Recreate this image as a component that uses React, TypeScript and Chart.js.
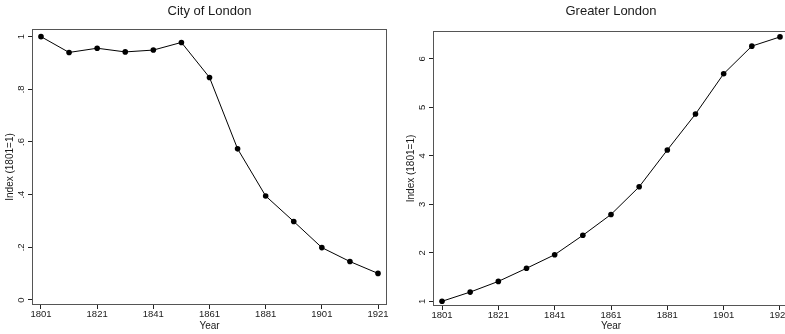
import React, { useEffect, useRef } from "react";
import { Chart, registerables } from "chart.js";

Chart.register(...registerables);

const years = [1801, 1811, 1821, 1831, 1841, 1851, 1861, 1871, 1881, 1891, 1901, 1911, 1921];
const cityValues = [1.0, 0.94, 0.956, 0.942, 0.949, 0.978, 0.845, 0.574, 0.395, 0.298, 0.199, 0.146, 0.101];
const greaterValues = [1.0, 1.19, 1.41, 1.68, 1.96, 2.36, 2.79, 3.36, 4.12, 4.86, 5.69, 6.26, 6.45];
const xTicks = [1801, 1821, 1841, 1861, 1881, 1901, 1921];
const cityYTicks = [0, 0.2, 0.4, 0.6, 0.8, 1];
const cityYTickLabels = ["0", ".2", ".4", ".6", ".8", "1"];
const greaterYTicks = [1, 2, 3, 4, 5, 6];
const greaterYTickLabels = ["1", "2", "3", "4", "5", "6"];
const panelTitles = ["City of London", "Greater London"];
const xTitle = "Year";
const yTitle = "Index (1801=1)";

const FONT = "'Liberation Sans', Arial, Helvetica, sans-serif";
const TEXT = "#1a1a1a";
const TICK_SIZE = 9.5;
const AXIS_TITLE_SIZE = 10;

type Panel = {
  title: string;
  values: number[];
  yTicks: number[];
  yLabels: string[];
  yMin: number;
  yMax: number;
  canvasLeft: number;
  canvasWidth: number;
  padRight: number;
  yAxisWidth: number;
  xAxisHeight: number;
  titlePadTop: number;
  titlePadBottom: number;
  yTitlePad: number;
  yTickPad: number;
};

const panels: Panel[] = [
  {
    title: panelTitles[0],
    values: cityValues,
    yTicks: cityYTicks,
    yLabels: cityYTickLabels,
    yMin: -0.019,
    yMax: 1.029,
    canvasLeft: 0,
    canvasWidth: 400,
    padRight: 13,
    yAxisWidth: 32,
    xAxisHeight: 29,
    titlePadTop: 4,
    titlePadBottom: 9.4,
    yTitlePad: 4.5,
    yTickPad: 3,
  },
  {
    title: panelTitles[1],
    values: greaterValues,
    yTicks: greaterYTicks,
    yLabels: greaterYTickLabels,
    yMin: 0.903,
    yMax: 6.572,
    canvasLeft: 400,
    canvasWidth: 395,
    padRight: 6,
    yAxisWidth: 33,
    xAxisHeight: 28,
    titlePadTop: 4,
    titlePadBottom: 11.4,
    yTitlePad: 5.7,
    yTickPad: 4.4,
  },
];

const boxPlugin = {
  id: "plotBox",
  afterDatasetsDraw(chart: any) {
    const { ctx, chartArea } = chart;
    ctx.save();
    ctx.strokeStyle = "#555";
    ctx.lineWidth = 1;
    ctx.strokeRect(chartArea.left + 0.5, chartArea.top + 0.5, chartArea.right - chartArea.left - 1, chartArea.bottom - chartArea.top - 1);
    ctx.restore();
  },
};

function PanelChart({ p }: { p: Panel }) {
  const ref = useRef<HTMLCanvasElement | null>(null);
  useEffect(() => {
    if (!ref.current) return;
    const chart = new Chart(ref.current, {
      type: "line",
      data: {
        datasets: [
          {
            data: years.map((yr, i) => ({ x: yr, y: p.values[i] })),
            borderColor: "#000",
            borderWidth: 1,
            backgroundColor: "#000",
            pointBackgroundColor: "#000",
            pointBorderColor: "#000",
            pointRadius: 2.8,
            pointBorderWidth: 0,
            tension: 0,
            fill: false,
          },
        ],
      },
      options: {
        responsive: false,
        animation: false,
        devicePixelRatio: 1,
        layout: { padding: { left: 0, right: p.padRight, top: 0, bottom: 0 } },
        plugins: {
          legend: { display: false },
          tooltip: { enabled: false },
          title: {
            display: true,
            text: p.title,
            fullSize: false,
            color: TEXT,
            font: { family: FONT, size: 13, weight: "normal" },
            padding: { top: p.titlePadTop, bottom: p.titlePadBottom },
          },
        },
        scales: {
          x: {
            type: "linear",
            min: 1797.8,
            max: 1924.2,
            afterBuildTicks: (s: any) => {
              s.ticks = xTicks.map((v) => ({ value: v }));
            },
            afterFit: (s: any) => {
              s.height = p.xAxisHeight;
            },
            border: { display: false },
            grid: { display: true, drawOnChartArea: false, drawTicks: true, tickLength: 4, color: "#222" },
            ticks: {
              autoSkip: false,
              maxRotation: 0,
              padding: 0,
              color: TEXT,
              font: { family: FONT, size: TICK_SIZE },
              callback: (v: any) => String(v),
            },
            title: {
              display: true,
              text: xTitle,
              color: TEXT,
              font: { family: FONT, size: AXIS_TITLE_SIZE },
              padding: { top: 0, bottom: 2 },
            },
          },
          y: {
            type: "linear",
            min: p.yMin,
            max: p.yMax,
            afterBuildTicks: (s: any) => {
              s.ticks = p.yTicks.map((v) => ({ value: v }));
            },
            afterFit: (s: any) => {
              s.width = p.yAxisWidth;
            },
            border: { display: false },
            grid: { display: true, drawOnChartArea: false, drawTicks: true, tickLength: 4, color: "#222" },
            ticks: {
              autoSkip: false,
              minRotation: 90,
              maxRotation: 90,
              crossAlign: "center",
              padding: p.yTickPad,
              color: TEXT,
              font: { family: FONT, size: TICK_SIZE },
              callback: (v: any) => {
                const idx = p.yTicks.indexOf(v);
                return idx >= 0 ? p.yLabels[idx] : "";
              },
            },
            title: {
              display: true,
              text: yTitle,
              color: TEXT,
              font: { family: FONT, size: AXIS_TITLE_SIZE },
              padding: { top: p.yTitlePad, bottom: 0 },
            },
          },
        },
      },
      plugins: [boxPlugin],
    } as any);
    return () => chart.destroy();
  }, [p]);
  return (
    <canvas
      ref={ref}
      width={p.canvasWidth}
      height={334}
      style={{ position: "absolute", left: p.canvasLeft, top: 0, width: p.canvasWidth, height: 334, display: "block" }}
    />
  );
}

export default function App() {
  return (
    <div
      style={{
        position: "fixed",
        left: 0,
        top: 0,
        width: 785,
        height: 334,
        overflow: "hidden",
        background: "#fff",
      }}
    >
      {panels.map((p, i) => (
        <PanelChart key={i} p={p} />
      ))}
    </div>
  );
}
